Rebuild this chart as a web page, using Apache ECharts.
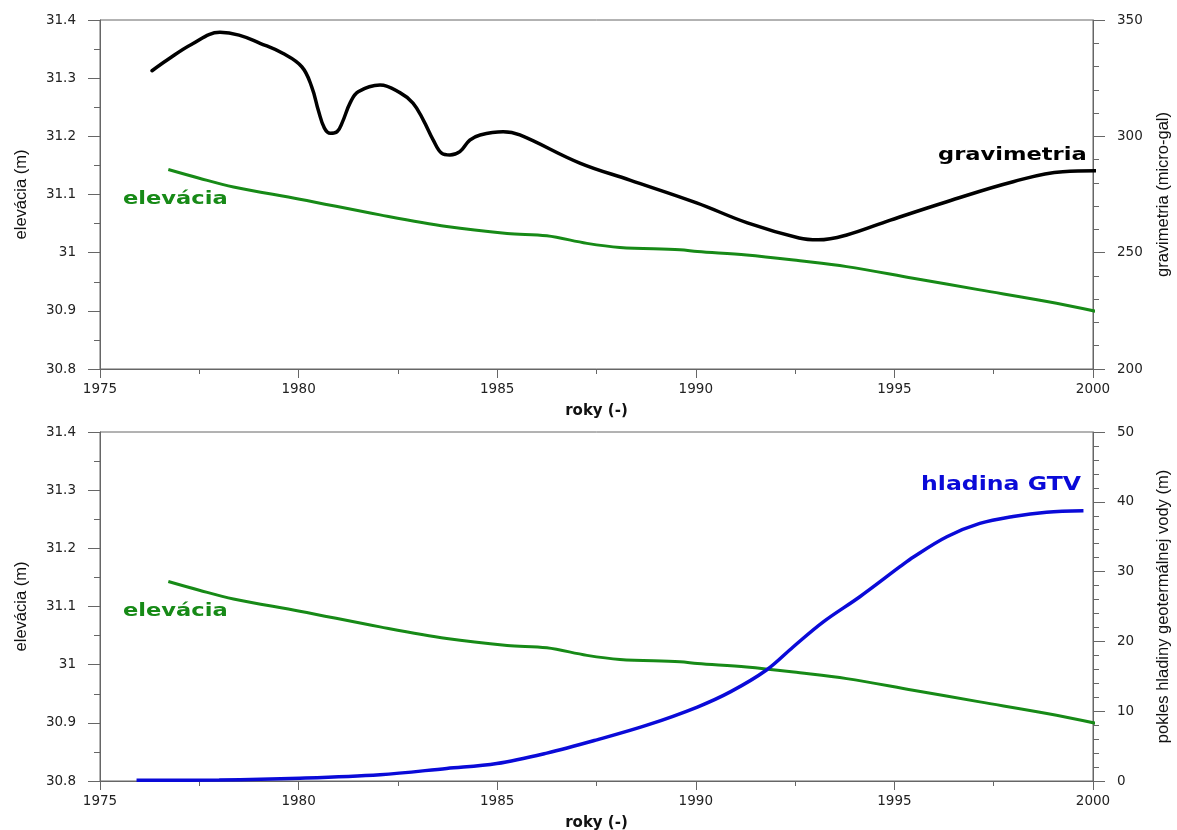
<!DOCTYPE html>
<html>
<head>
<meta charset="utf-8">
<script src="https://cdn.jsdelivr.net/npm/echarts@6/dist/echarts.min.js"></script>
<style>
html,body{margin:0;padding:0;background:#fff;}
#chart{width:1177px;height:830px;}
</style>
</head>
<body>
<div id="chart"></div>
<script>
// ---- data ----
const gravYears  = [1976.31,1976.69,1977.3,1978.02,1978.5,1979.03,1979.6,1980.08,1980.33,1980.5,1980.65,1980.8,1980.97,1981.1,1981.3,1981.5,1982.05,1982.55,1982.88,1983.14,1983.39,1983.6,1983.81,1984.06,1984.31,1984.57,1985.15,1985.57,1987.08,1988.34,1990.02,1991.3,1992.6,1993.08,1993.8,1994.9,1996.32,1997.99,1999.24,2000.25];
const gravValues = [328.2,332.8,339.5,344.7,343.5,340,335.7,329.9,321.3,311,303.5,301.3,302,306,314.5,319.2,322.1,318.8,314.3,307,298.4,292.8,292,293.4,298.4,300.6,302,300.6,288.5,281.2,271.4,262.8,256.3,255.5,257.6,264,271.9,280.5,284.8,285.2];

const elevYears  = [1976.72,1977.5,1978.36,1980.03,1982.05,1983.73,1985.25,1986.25,1987.26,1988.09,1989.6,1990.04,1991.28,1992.62,1993.8,1995.47,1997.15,1998.84,2000.3];
const elevValues = [31.143,31.128,31.113,31.092,31.065,31.045,31.033,31.029,31.016,31.009,31.005,31.002,30.996,30.986,30.976,30.956,30.936,30.916,30.896];

const gtvYears  = [1975.92,1978,1980.03,1982.05,1983.73,1984.99,1986.25,1987.51,1988.77,1990.04,1990.88,1991.78,1992.45,1993.21,1994.13,1995.14,1995.48,1996.32,1997.15,1997.99,1998.83,1999.76];
const gtvValues = [0.1,0.15,0.4,0.9,1.8,2.5,4.0,5.9,8.0,10.6,12.8,15.9,19.2,22.8,26.4,30.7,32.1,35.0,36.9,37.9,38.5,38.7];

const xTicks = {min:1975, max:2000, interval:5};
const elevAxis = {min:30.8, max:31.4, interval:0.1};
const gravAxis = {min:200, max:350, interval:50};
const gtvAxis  = {min:0, max:50, interval:10};

const xName = 'roky (-)';
const elevName = 'elevácia (m)';
const gravName = 'gravimetria (micro-gal)';
const gtvName = 'pokles hladiny geotermálnej vody (m)';

function pairs(xs, ys){ return xs.map((x,i)=>[x, ys[i]]); }

// ---- styling ----
const axisColor = '#666';
const tickFont = {fontFamily:'DejaVu Sans', fontSize:13.5, color:'#222'};
const nameFont = {fontFamily:'Liberation Sans, Arial, sans-serif', fontSize:16.5, color:'#111'};

function xAxisCfg(gi){
  return {
    type:'value', gridIndex:gi, min:xTicks.min, max:xTicks.max, interval:xTicks.interval,
    axisLine:{show:true, onZero:false, lineStyle:{color:axisColor, width:1}},
    axisTick:{show:true, length:9, lineStyle:{color:axisColor}},
    minorTick:{show:true, splitNumber:2, length:5, lineStyle:{color:axisColor}},
    splitLine:{show:false},
    axisLabel:Object.assign({margin:13, formatter:(v)=>String(v)}, tickFont),
    name:xName, nameLocation:'middle', nameGap:35,
    nameTextStyle:{fontFamily:'DejaVu Sans', fontWeight:'bold', fontSize:15, color:'#111'}
  };
}
function yAxisCfg(gi, pos, rng, name, minorSplit, gap){
  return {
    type:'value', gridIndex:gi, position:pos, min:rng.min, max:rng.max, interval:rng.interval,
    axisLine:{show:true, onZero:false, lineStyle:{color:axisColor, width:1}},
    axisTick:{show:true, length:12, lineStyle:{color:axisColor}},
    minorTick:{show:true, splitNumber:minorSplit, length:6, lineStyle:{color:axisColor}},
    splitLine:{show:false},
    axisLabel:Object.assign({margin:24}, tickFont),
    name:name, nameLocation:'middle', nameGap:gap, nameRotate:90,
    nameTextStyle:nameFont
  };
}

const chart = echarts.init(document.getElementById('chart'), null, {renderer:'canvas'});
const option = {
  animation:false,
  backgroundColor:'#fff',
  grid:[
    {left:100, right:84, top:20, height:349, show:true, borderColor:axisColor, borderWidth:1, outerBoundsMode:'none'},
    {left:100, right:84, top:432, height:349, show:true, borderColor:axisColor, borderWidth:1, outerBoundsMode:'none'}
  ],
  xAxis:[xAxisCfg(0), xAxisCfg(1)],
  yAxis:[
    yAxisCfg(0,'left',elevAxis,elevName,2,70),
    yAxisCfg(0,'right',gravAxis,gravName,5,62),
    yAxisCfg(1,'left',elevAxis,elevName,2,70),
    yAxisCfg(1,'right',gtvAxis,gtvName,5,62)
  ],
  series:[
    {type:'line', xAxisIndex:0, yAxisIndex:1, data:pairs(gravYears,gravValues), smooth:0.4, symbol:'none', clip:false,
     lineStyle:{color:'#000', width:3.5, join:'round', cap:'round'}},
    {type:'line', xAxisIndex:0, yAxisIndex:0, data:pairs(elevYears,elevValues), smooth:0.35, symbol:'none', clip:false,
     lineStyle:{color:'#178a17', width:3}},
    {type:'line', xAxisIndex:1, yAxisIndex:2, data:pairs(elevYears,elevValues), smooth:0.35, symbol:'none', clip:false,
     lineStyle:{color:'#178a17', width:3}},
    {type:'line', xAxisIndex:1, yAxisIndex:3, data:pairs(gtvYears,gtvValues), smooth:0.35, symbol:'none', clip:false,
     lineStyle:{color:'#0a0ad8', width:3.5}}
  ],
  graphic:[
    {type:'text', x:123, y:208, scaleX:1.29, style:{text:'elevácia', fontFamily:'DejaVu Sans', fontWeight:'bold', fontSize:17.5, fill:'#178a17', textAlign:'left', textVerticalAlign:'bottom'}},
    {type:'text', x:123, y:620, scaleX:1.29, style:{text:'elevácia', fontFamily:'DejaVu Sans', fontWeight:'bold', fontSize:17.5, fill:'#178a17', textAlign:'left', textVerticalAlign:'bottom'}},
    {type:'text', x:938, y:164, scaleX:1.29, style:{text:'gravimetria', fontFamily:'DejaVu Sans', fontWeight:'bold', fontSize:17.5, fill:'#000', textAlign:'left', textVerticalAlign:'bottom'}},
    {type:'text', x:921, y:495, scaleX:1.18, style:{text:'hladina GTV', fontFamily:'DejaVu Sans', fontWeight:'bold', fontSize:20, fill:'#0a0ad8', textAlign:'left', textVerticalAlign:'bottom'}}
  ]
};
chart.setOption(option);
</script>
</body>
</html>
